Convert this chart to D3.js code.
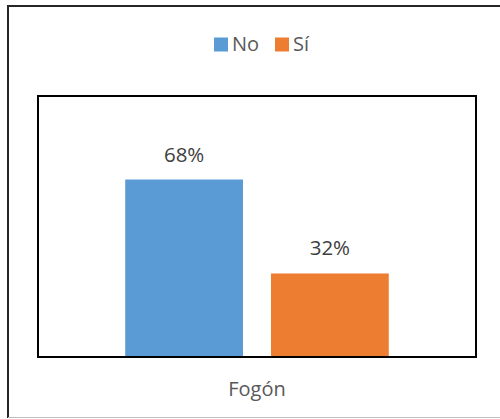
<!DOCTYPE html>
<html>
<head>
<meta charset="utf-8">
<script src="https://cdn.jsdelivr.net/npm/d3@7"></script>
<style>
  html, body { margin: 0; padding: 0; background: #fff; }
  svg { display: block; }
  text { font-family: "Open Sans", sans-serif; }
</style>
</head>
<body>
<svg id="chart" width="500" height="419"></svg>
<script>
const categories = ["Fogón"];
const series = ["No", "Sí"];
const values = [0.68, 0.32];
const labels = ["68%", "32%"];
const colors = ["#5b9bd5", "#ed7d31"];

const svg = d3.select("#chart");

// outer frame
svg.append("line").attr("x1", 8).attr("x2", 500).attr("y1", 6).attr("y2", 6)
  .attr("stroke", "#262626").attr("stroke-width", 2);
svg.append("line").attr("x1", 8).attr("x2", 8).attr("y1", 5).attr("y2", 418)
  .attr("stroke", "#262626").attr("stroke-width", 2);
svg.append("line").attr("x1", 8).attr("x2", 500).attr("y1", 417.5).attr("y2", 417.5)
  .attr("stroke", "#bfbfbf").attr("stroke-width", 1);

const plot = { left: 38, right: 476, top: 96, bottom: 357 };

const x0 = d3.scaleBand().domain(categories).range([plot.left, plot.right])
  .paddingInner(0).paddingOuter(0.331).align(0.5);
const x1 = d3.scaleBand().domain(series).range([0, x0.bandwidth()])
  .paddingInner(0.192).paddingOuter(0);
const y = d3.scaleLinear().domain([0, 1]).range([plot.bottom, plot.top]);

const g = svg.append("g");
const rows = series.map((s, i) => ({ s, v: values[i], label: labels[i], color: colors[i], cat: categories[0] }));

g.selectAll("rect.bar").data(rows).enter().append("rect")
  .attr("class", "bar")
  .attr("x", d => x0(d.cat) + x1(d.s))
  .attr("width", x1.bandwidth())
  .attr("y", d => y(d.v))
  .attr("height", d => y(0) - y(d.v))
  .attr("fill", d => d.color);

g.selectAll("text.lbl").data(rows).enter().append("text")
  .attr("class", "lbl")
  .attr("x", d => x0(d.cat) + x1(d.s) + x1.bandwidth() / 2)
  .attr("y", d => y(d.v) - 18)
  .attr("text-anchor", "middle")
  .attr("font-size", 20.5)
  .attr("fill", "#404040")
  .text(d => d.label);

// plot frame
svg.append("rect")
  .attr("x", plot.left).attr("y", plot.top)
  .attr("width", plot.right - plot.left).attr("height", plot.bottom - plot.top)
  .attr("fill", "none").attr("stroke", "#000").attr("stroke-width", 2);

// category label
svg.append("text")
  .attr("x", x0(categories[0]) + x0.bandwidth() / 2)
  .attr("y", 396)
  .attr("text-anchor", "middle")
  .attr("font-size", 20)
  .attr("fill", "#595959")
  .text(categories[0]);

// legend
const legend = svg.append("g");
const items = [{ x: 214, tx: 232 }, { x: 275, tx: 293 }];
series.forEach((s, i) => {
  legend.append("rect").attr("x", items[i].x).attr("y", 37.5)
    .attr("width", 14).attr("height", 14).attr("fill", colors[i]);
  legend.append("text").attr("x", items[i].tx).attr("y", 51)
    .attr("font-size", 20).attr("fill", "#595959").text(s);
});
</script>
</body>
</html>
